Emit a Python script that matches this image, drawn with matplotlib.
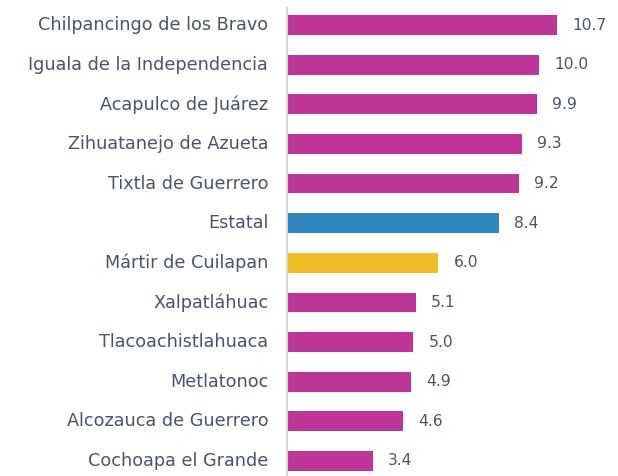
import matplotlib.pyplot as plt
import numpy as np

plt.rcParams["font.family"] = ["DejaVu Sans"]

municipios = ["Chilpancingo de los Bravo", "Iguala de la Independencia",
              "Acapulco de Juárez", "Zihuatanejo de Azueta", "Tixtla de Guerrero",
              "Estatal", "Mártir de Cuilapan", "Xalpatláhuac", "Tlacoachistlahuaca",
              "Metlatonoc", "Alcozauca de Guerrero", "Cochoapa el Grande"]
valores = [10.7, 10.0, 9.9, 9.3, 9.2, 8.4, 6.0, 5.1, 5.0, 4.9, 4.6, 3.4]

magenta = "#BE3497"
colores = [magenta] * len(valores)
colores[5] = "#2E86C1"
colores[6] = "#F2BE27"
txt = "#4A5568"

fig = plt.figure(figsize=(6.18, 4.76), dpi=100)
ax = fig.add_axes([287 / 618, 0, (612 - 287) / 618, 468 / 476])

y = np.arange(len(valores))
ax.barh(y, valores, height=0.5, color=colores)
for yi, v in zip(y, valores):
    ax.annotate(f"{v:.1f}", (v, yi), xytext=(11, 0), textcoords="offset points",
                va="center", ha="left", fontsize=11.2, color=txt)

ax.set_yticks(y)
ax.set_yticklabels(municipios, fontsize=12.7, color=txt, va="center")
ax.tick_params(axis="y", length=0, pad=13.5)
ax.set_xticks([])
ax.set_xlim(0, (612 - 287) / 25.23)
ax.set_ylim(11.38, -0.43)
for s in ["top", "right", "bottom"]:
    ax.spines[s].set_visible(False)
ax.spines["left"].set_color("#D9D9D9")
ax.spines["left"].set_linewidth(1.5)

fig.savefig("out.png", dpi=100)
